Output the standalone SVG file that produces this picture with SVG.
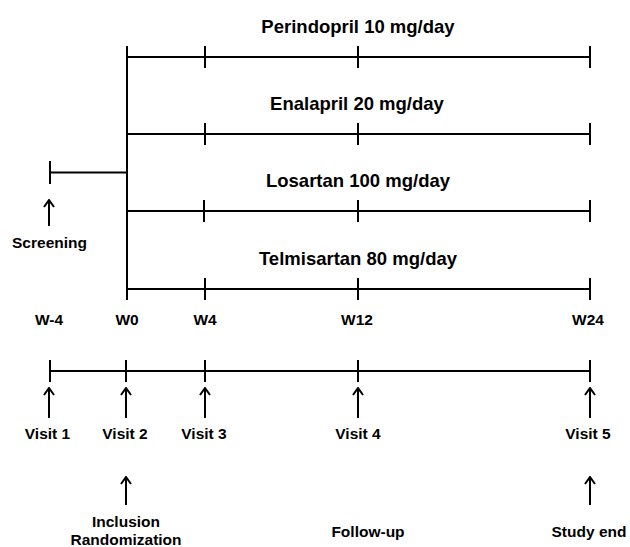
<svg xmlns="http://www.w3.org/2000/svg" width="630" height="547" viewBox="0 0 630 547">
<style>
.ln{stroke:#000;stroke-width:2;fill:none}
.ar{stroke:#000;stroke-width:2;fill:none}
.t{font-family:"Liberation Sans",Arial,sans-serif;font-weight:bold;fill:#000;text-anchor:middle}
.big{font-size:18.5px}
.sm{font-size:15.5px}
</style>
<defs>
<marker id="ah" markerUnits="userSpaceOnUse" viewBox="-6 -1 12 10" refX="0" refY="0" markerWidth="12" markerHeight="10" orient="0">
<path d="M-5,7 L0,0 L5,7" stroke="#000" stroke-width="2" fill="none"/>
</marker>
</defs>
<rect width="630" height="547" fill="#fff"/>
<g id="connectors">
<line class="ln" x1="127" y1="46" x2="127" y2="300"/>
<line class="ln" x1="50" y1="172.5" x2="127" y2="172.5"/>
<line class="ln" x1="50" y1="161" x2="50" y2="184"/>
<line class="ln" x1="127" y1="57" x2="590" y2="57"/>
<line class="ln" x1="205" y1="46" x2="205" y2="68"/>
<line class="ln" x1="358" y1="46" x2="358" y2="68"/>
<line class="ln" x1="590" y1="46" x2="590" y2="68"/>
<line class="ln" x1="127" y1="134" x2="590" y2="134"/>
<line class="ln" x1="205" y1="123" x2="205" y2="145"/>
<line class="ln" x1="358" y1="123" x2="358" y2="145"/>
<line class="ln" x1="590" y1="123" x2="590" y2="145"/>
<line class="ln" x1="127" y1="211" x2="590" y2="211"/>
<line class="ln" x1="204" y1="200" x2="204" y2="222"/>
<line class="ln" x1="358" y1="200" x2="358" y2="222"/>
<line class="ln" x1="590" y1="200" x2="590" y2="222"/>
<line class="ln" x1="127" y1="289" x2="590" y2="289"/>
<line class="ln" x1="205" y1="278" x2="205" y2="300"/>
<line class="ln" x1="358" y1="278" x2="358" y2="300"/>
<line class="ln" x1="590" y1="278" x2="590" y2="300"/>
<line class="ln" x1="50" y1="371" x2="590" y2="371"/>
<line class="ln" x1="50" y1="360" x2="50" y2="382"/>
<line class="ln" x1="126" y1="360" x2="126" y2="382"/>
<line class="ln" x1="205" y1="360" x2="205" y2="382"/>
<line class="ln" x1="358" y1="360" x2="358" y2="382"/>
<line class="ln" x1="590" y1="360" x2="590" y2="382"/>
<line class="ar" x1="49" y1="226" x2="49" y2="200" marker-end="url(#ah)"/>
<line class="ar" x1="49" y1="418" x2="49" y2="388" marker-end="url(#ah)"/>
<line class="ar" x1="126" y1="418" x2="126" y2="388" marker-end="url(#ah)"/>
<line class="ar" x1="205" y1="418" x2="205" y2="388" marker-end="url(#ah)"/>
<line class="ar" x1="358" y1="418" x2="358" y2="388" marker-end="url(#ah)"/>
<line class="ar" x1="590" y1="418" x2="590" y2="388" marker-end="url(#ah)"/>
<line class="ar" x1="126" y1="505" x2="126" y2="477" marker-end="url(#ah)"/>
<line class="ar" x1="590" y1="505" x2="590" y2="477" marker-end="url(#ah)"/>
</g>
<g id="arm-perindopril"><text class="t big" x="358" y="33">Perindopril 10 mg/day</text></g>
<g id="arm-enalapril"><text class="t big" x="357" y="110">Enalapril 20 mg/day</text></g>
<g id="arm-losartan"><text class="t big" x="358" y="187">Losartan 100 mg/day</text></g>
<g id="arm-telmisartan"><text class="t big" x="358" y="265">Telmisartan 80 mg/day</text></g>
<g id="screening"><text class="t sm" x="49.5" y="248">Screening</text></g>
<g id="week-labels">
<text class="t sm" x="49" y="325">W-4</text>
<text class="t sm" x="127" y="325">W0</text>
<text class="t sm" x="205" y="325">W4</text>
<text class="t sm" x="357" y="325">W12</text>
<text class="t sm" x="588" y="325">W24</text>
</g>
<g id="visit1"><text class="t sm" x="47.5" y="439">Visit 1</text></g>
<g id="visit2"><text class="t sm" x="125" y="439">Visit 2</text></g>
<g id="visit3"><text class="t sm" x="204" y="439">Visit 3</text></g>
<g id="visit4"><text class="t sm" x="358" y="439">Visit 4</text></g>
<g id="visit5"><text class="t sm" x="588" y="439">Visit 5</text></g>
<g id="inclusion"><text class="t sm" x="126" y="527">Inclusion</text><text class="t sm" x="126" y="545">Randomization</text></g>
<g id="followup"><text class="t sm" x="368" y="537">Follow-up</text></g>
<g id="studyend"><text class="t sm" x="589" y="537">Study end</text></g>
</svg>
